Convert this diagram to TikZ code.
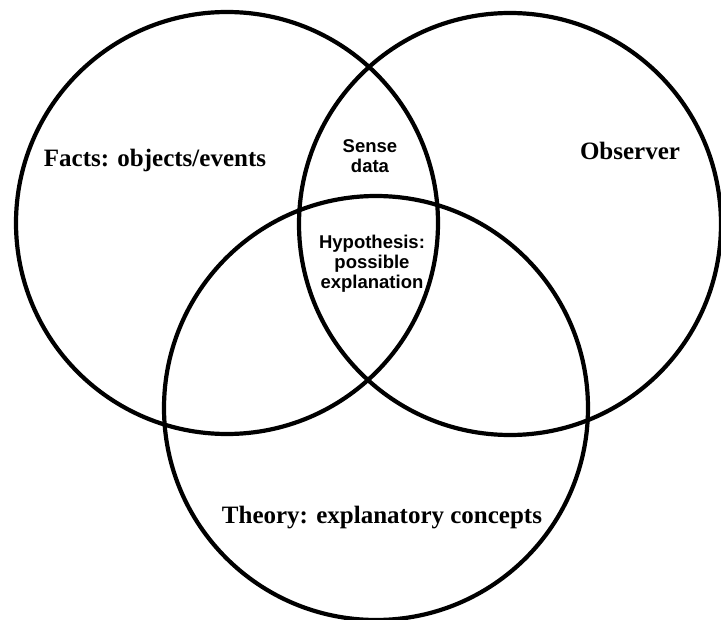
\documentclass[tikz,border=0pt]{standalone}
\usepackage{fontspec}
\setmainfont{Liberation Serif}
\newfontfamily\arialfont{Liberation Sans}
\tikzset{
  venn/.style={draw=black,line width=4.2pt},
  biglabel/.style={inner sep=0pt,anchor=base,font=\bfseries\fontsize{25}{30}\selectfont},
  smalllabel/.style={inner sep=0pt,align=center,font=\arialfont\bfseries\fontsize{18.5}{20}\selectfont}
}
\begin{document}
\begin{tikzpicture}[x=1pt,y=-1pt]
            \useasboundingbox (0,0) rectangle (721,620);
            \coordinate (facts) at (227,223);
            \coordinate (observer) at (510,224);
            \coordinate (theory) at (376,408);
            \draw[venn] (facts) circle (211pt);
            \draw[venn] (observer) circle (211pt);
            \draw[venn] (theory) circle (212pt);
            \node[biglabel] (factslabel) at (155,167) {Facts: objects/events};
            \node[biglabel] (observerlabel) at (630,160) {Observer};
            \node[biglabel] (theorylabel) at (382,523) {Theory: explanatory concepts};
            \node[smalllabel] (sense) at (370,156) {Sense\\data};
            \node[smalllabel] (hypothesis) at (372,264) {Hypothesis:\\possible\\explanation};
            \end{tikzpicture}
\end{document}
